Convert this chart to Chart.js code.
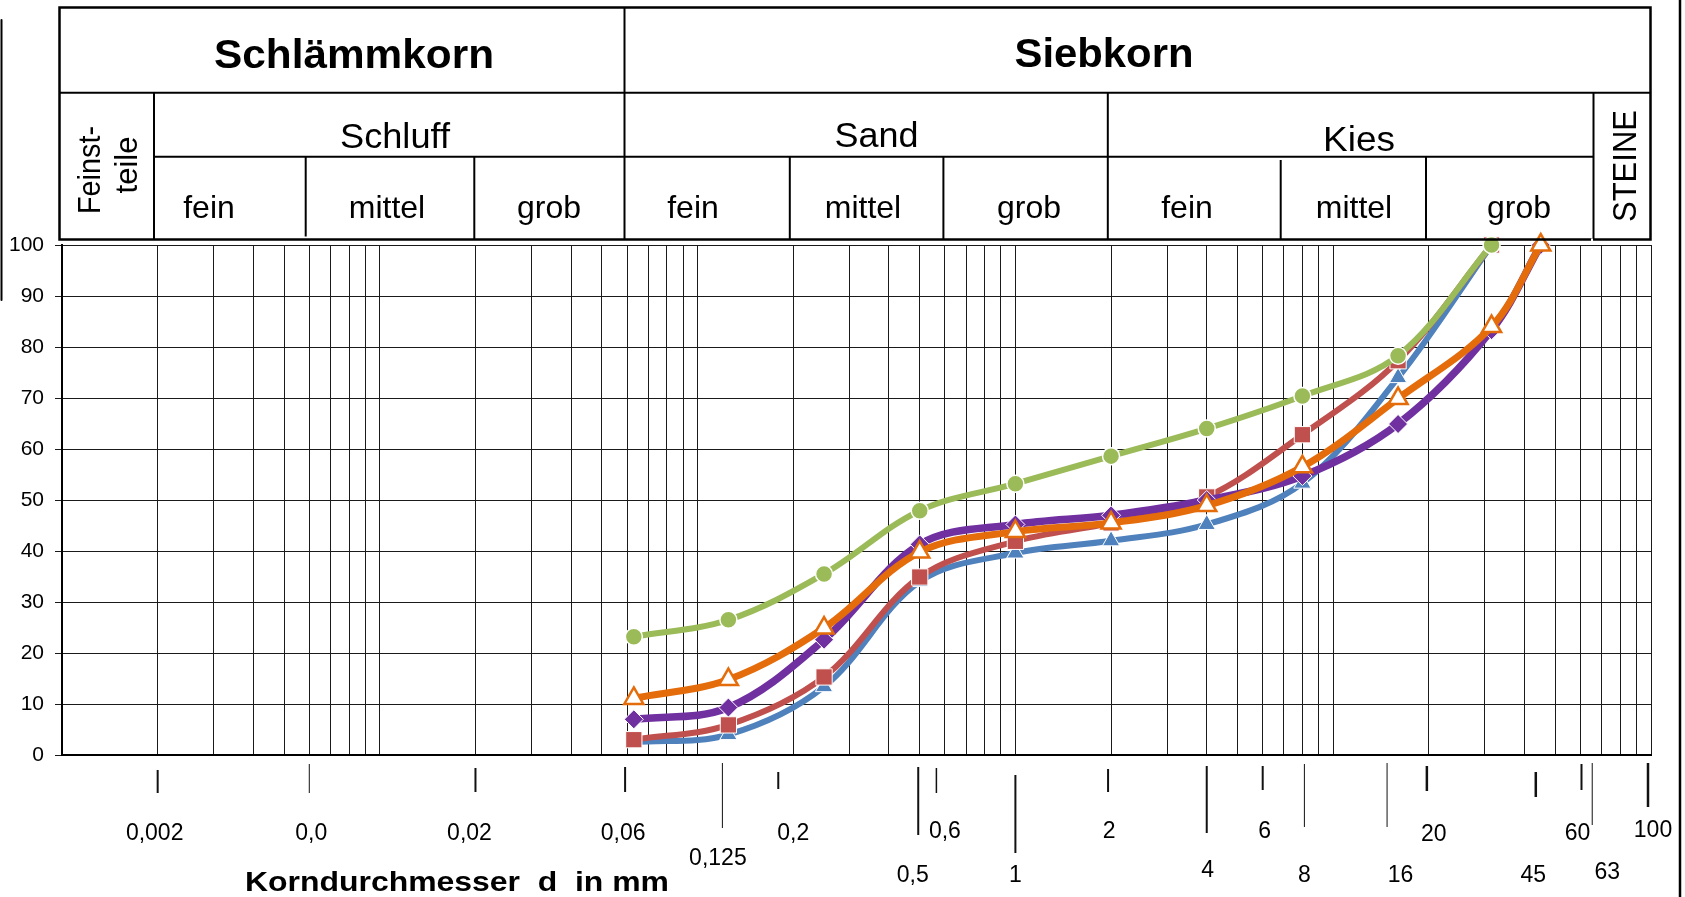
<!DOCTYPE html>
<html lang="de">
<head>
<meta charset="UTF-8">
<title>Körnungslinie</title>
<script src="https://cdn.jsdelivr.net/npm/chart.js"></script>
<style>
  html, body { margin: 0; padding: 0; background: #fff; }
  #wrap { width: 1685px; height: 897px; }
</style>
</head>
<body>
<div id="wrap"><canvas id="chart" width="1685" height="897"></canvas></div>
<script>
// Korngröße d in mm (Siebweiten) und Siebdurchgang in %
const korngroessen = [0.063, 0.125, 0.25, 0.5, 1, 2, 4, 8, 16, 31.5, 45];
const probeBlau    = [2.5, 4.0, 13.4, 34.0, 39.6, 42.0, 45.2, 53.3, 74.0, 100, null];
const probeRot     = [3.0, 5.9, 15.3, 34.9, 41.9, 45.5, 50.6, 62.8, 77.3, 100, null];
const probeGruen   = [23.2, 26.5, 35.5, 47.9, 53.2, 58.6, 64.0, 70.4, 78.3, 100, null];
const probeLila    = [7.0, 9.3, 22.6, 41.3, 45.2, 47.0, 50.0, 54.7, 64.9, 83.3, 100];
const probeOrange  = [11.1, 14.8, 24.9, 39.8, 43.8, 45.5, 48.9, 56.5, 69.9, 84.0, 100];

// Beschriftung unter der x-Achse
const labelsOben  = ['0,002', '0,0', '0,02', '0,06', '0,2', '0,6', '2', '6', '20', '60', '100'];
const werteOben   = [0.002, 0.006, 0.02, 0.06, 0.2, 0.6, 2, 6, 20, 60, 100];
const labelsUnten = ['0,125', '0,5', '1', '4', '8', '16', '45', '63'];
const werteUnten  = [0.125, 0.5, 1, 4, 8, 16, 45, 63];
const strichWerte = [0.002, 0.006, 0.02, 0.06, 0.125, 0.2, 0.5, 0.6, 1, 2, 4, 6, 8, 16, 20, 45, 60, 63, 100];

// Stil der Striche unter der Achse: [oben, unten, breite, versatz]
const strichStil = {
  0.002: [770, 793, 2, 0], 0.006: [764, 793, 1, 0], 0.02: [768, 792, 2, 0], 0.06: [767, 792, 2, -2],
  0.125: [763, 828, 1, -6], 0.2: [772, 789, 2, -15], 0.5: [767, 835, 2, -1.5], 0.6: [768, 793, 1.5, -8.5],
  1: [775, 853, 2, 0], 2: [769, 792, 2, -3], 4: [766, 833, 2, 0], 6: [766, 790, 2, 0],
  8: [764, 827, 1, 2], 16: [763, 827, 1, -11], 20: [766, 791, 2.5, -2], 45: [772, 797, 2.5, -5],
  60: [764, 790, 2, 1], 63: [763, 825, 1, 5], 100: [763, 807, 2.5, -3]
};
// Versatz der Zahlen: [dx, grundlinie]
const labelStilOben  = [[-3, 840], [2, 840], [-6, 840], [-4, 840], [0, 840], [0, 838], [-2, 838], [2, 838], [5, 841], [-3, 840], [2, 837]];
const labelStilUnten = [[-10.5, 865], [-7, 882], [0, 882], [1, 877], [2, 882], [2.5, 882], [-7.5, 882], [20, 879]];

// Gitterlinien 1..9 je Dekade
const gitter = [];
for (let e = -3; e <= 1; e++) for (let m = 1; m <= 9; m++) gitter.push(+(m * Math.pow(10, e)).toPrecision(3));
gitter.push(100);

function punkte(werte) {
  return korngroessen.map((x, i) => ({ x: x, y: werte[i] })).filter(p => p.y !== null);
}

function strich(ctx, x1, y1, x2, y2, w) {
  ctx.beginPath();
  ctx.lineWidth = w;
  ctx.moveTo(x1, y1);
  ctx.lineTo(x2, y2);
  ctx.stroke();
}

function schrift(ctx, s, x, y, font, rot, breite) {
  ctx.save();
  ctx.font = font;
  ctx.textAlign = 'center';
  ctx.textBaseline = 'alphabetic';
  ctx.translate(x, y);
  if (rot) ctx.rotate(-Math.PI / 2);
  if (breite) ctx.scale(breite / ctx.measureText(s).width, 1);
  ctx.fillText(s, 0, 0);
  ctx.restore();
}

const dekor = {
  id: 'dekor',
  afterDraw(chart) {
    const ctx = chart.ctx;
    const xs = chart.scales.x;
    ctx.save();
    ctx.strokeStyle = '#000';
    ctx.fillStyle = '#000';
    ctx.lineCap = 'butt';

    // Kopftabelle
    ctx.lineWidth = 2.5;
    ctx.strokeRect(59.5, 7.5, 1591, 232);
    strich(ctx, 59, 92.7, 1651, 92.7, 2);
    strich(ctx, 154, 92.7, 154, 239.5, 2);
    strich(ctx, 154, 156.7, 1593.5, 156.7, 2);
    strich(ctx, 305.7, 156.7, 305.7, 236.5, 2);
    strich(ctx, 474.3, 156.7, 474.3, 239.5, 2);
    strich(ctx, 624.5, 7.5, 624.5, 239.5, 2);
    strich(ctx, 789.8, 156.7, 789.8, 239.5, 2);
    strich(ctx, 943.4, 156.7, 943.4, 239.5, 2);
    strich(ctx, 1107.8, 92.7, 1107.8, 239.5, 2);
    strich(ctx, 1280.7, 160, 1280.7, 239.5, 2);
    strich(ctx, 1426, 156.7, 1426, 239.5, 2);
    strich(ctx, 1593.5, 92.7, 1593.5, 239, 2);
    ctx.fillStyle = '#fff';
    ctx.fillRect(1591, 238.5, 2, 3);
    ctx.fillStyle = '#000';

    // Randlinien des Ausschnitts
    strich(ctx, 1680, 0, 1680, 897, 2.5);
    ctx.lineCap = 'round';
    strich(ctx, 1.5, 20, 1.5, 300, 2);
    ctx.lineCap = 'butt';

    const sans = '"Liberation Sans", Arial, sans-serif';
    schrift(ctx, 'Schlämmkorn', 354, 68, 'bold 41px ' + sans, false, 280);
    schrift(ctx, 'Siebkorn', 1104, 67, 'bold 41px ' + sans, false, 179);
    schrift(ctx, 'Schluff', 395, 148, '35px ' + sans, false, 110);
    schrift(ctx, 'Sand', 876.5, 147, '35px ' + sans, false, 84);
    schrift(ctx, 'Kies', 1359, 151, '35px ' + sans, false, 72);
    const reihe3 = [['fein', 209], ['mittel', 387], ['grob', 549], ['fein', 693], ['mittel', 863],
                    ['grob', 1029], ['fein', 1187], ['mittel', 1354], ['grob', 1519]];
    reihe3.forEach(r => schrift(ctx, r[0], r[1], 218, '32px ' + sans));
    schrift(ctx, 'Feinst-', 100, 170, '31px ' + sans, true, 88);
    schrift(ctx, 'teile', 136.5, 165, '31px ' + sans, true, 57);
    schrift(ctx, 'STEINE', 1635.5, 166, '33px ' + sans, true, 112);

    // Striche und Zahlen unter der x-Achse
    ctx.strokeStyle = '#111';
    strichWerte.forEach(v => {
      const st = strichStil[v];
      const x = xs.getPixelForValue(v) + st[3];
      strich(ctx, x, st[0], x, st[1], st[2]);
    });
    const zahl = '23px ' + sans;
    labelsOben.forEach((t, i) => {
      const st = labelStilOben[i];
      schrift(ctx, t, xs.getPixelForValue(werteOben[i]) + st[0], st[1], zahl);
    });
    labelsUnten.forEach((t, i) => {
      const st = labelStilUnten[i];
      schrift(ctx, t, xs.getPixelForValue(werteUnten[i]) + st[0], st[1], zahl);
    });
    schrift(ctx, 'Korndurchmesser  d  in mm', 457, 891, 'bold 28px ' + sans, false, 424);
    ctx.restore();
  }
};

function serie(label, werte, farbe, stil, radius, breite, fuellung, rand, randBreite, ordnung) {
  return {
    label: label,
    data: punkte(werte),
    borderColor: farbe,
    borderWidth: breite,
    tension: 0.35,
    pointStyle: stil,
    pointRadius: radius,
    pointHoverRadius: radius,
    pointBackgroundColor: fuellung,
    pointBorderColor: rand,
    pointBorderWidth: randBreite,
    clip: false,
    order: ordnung
  };
}

new Chart(document.getElementById('chart'), {
  type: 'line',
  data: {
    datasets: [
      serie('Probe 1', probeBlau, '#4F81BD', 'triangle', 10, 6, '#4F81BD', '#fff', 1, 5),
      serie('Probe 2', probeRot, '#C0504D', 'rect', 11.5, 6, '#C0504D', '#fff', 1, 4),
      serie('Probe 3', probeGruen, '#9BBB59', 'circle', 8.5, 6, '#9BBB59', '#fff', 1.5, 3),
      serie('Probe 4', probeLila, '#7030A0', 'rectRot', 9.5, 7.5, '#7030A0', '#fff', 1, 2),
      serie('Probe 5', probeOrange, '#E46C0A', 'triangle', 11, 7, '#fff', '#E46C0A', 2.5, 1)
    ]
  },
  options: {
    responsive: false,
    devicePixelRatio: 1,
    animation: false,
    layout: { padding: { top: 245, right: 34, bottom: 142, left: 0 } },
    plugins: { legend: { display: false }, tooltip: { enabled: false } },
    scales: {
      x: {
        type: 'logarithmic',
        min: 0.001,
        max: 100,
        afterBuildTicks: s => { s.ticks = gitter.map(v => ({ value: v })); },
        afterFit: s => { s.height = 0; },
        ticks: { display: false },
        grid: { color: '#1a1a1a', lineWidth: 1, drawTicks: false },
        border: { color: '#000', width: 2 }
      },
      y: {
        min: 0,
        max: 100,
        afterFit: s => { s.width = 62; },
        ticks: { stepSize: 10, color: '#000', padding: 11, font: { family: '"Liberation Sans", Arial, sans-serif', size: 21 } },
        grid: { color: '#1a1a1a', lineWidth: 1, tickLength: 7 },
        border: { color: '#000', width: 2 }
      }
    }
  },
  plugins: [dekor]
});
</script>
</body>
</html>
